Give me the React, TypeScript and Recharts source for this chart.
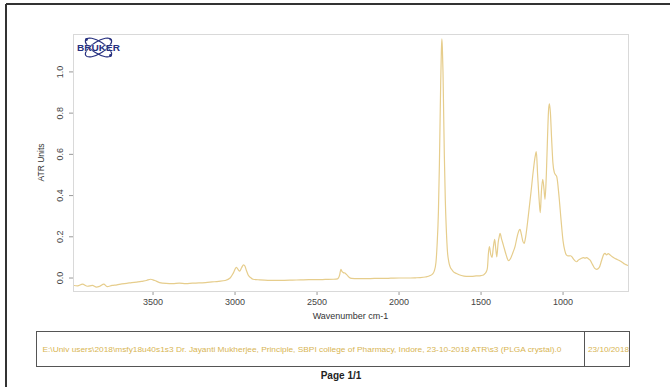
import { LineChart, Line, XAxis, YAxis } from 'recharts';

// ATR spectrum (PLGA crystal)
const wavenumbers = [
  3988, 3960, 3930, 3900, 3870, 3845, 3825, 3800, 3780, 3750, 3720, 3690, 3660, 3630, 3600, 3570,
  3540, 3515, 3490, 3460, 3420, 3380, 3340, 3300, 3260, 3220, 3180, 3140, 3100, 3060, 3030, 3010,
  2992, 2980, 2972, 2960, 2948, 2940, 2930, 2920, 2905, 2890, 2850, 2800, 2750, 2700, 2650, 2600,
  2550, 2500, 2450, 2400, 2375, 2362, 2355, 2348, 2340, 2330, 2318, 2305, 2290, 2250, 2200, 2150,
  2100, 2050, 2000, 1950, 1900, 1870, 1840, 1810, 1795, 1785, 1775, 1768, 1760, 1754, 1750, 1746,
  1742, 1739, 1736, 1732, 1728, 1724, 1718, 1712, 1705, 1697, 1689, 1678, 1668, 1650, 1620, 1590,
  1560, 1530, 1500, 1485, 1475, 1468, 1461, 1455, 1449, 1441, 1433, 1425, 1417, 1410, 1404, 1396,
  1388, 1384, 1375, 1364, 1350, 1340, 1333, 1320, 1305, 1293, 1280, 1268, 1262, 1255, 1245, 1237,
  1228, 1212, 1195, 1181, 1170, 1163, 1155, 1145, 1139, 1132, 1124, 1116, 1110, 1102, 1094, 1088,
  1083, 1077, 1070, 1062, 1053, 1045, 1038, 1025, 1012, 1000, 990, 980, 968, 955, 947, 935,
  925, 917, 905, 890, 876, 866, 856, 846, 835, 820, 808, 795, 780, 765, 752, 744,
  735, 725, 713, 700, 685, 670, 652, 640, 625, 611, 604,
];

const atrUnits = [
  -0.035, -0.038, -0.03, -0.04, -0.036, -0.044, -0.04, -0.03, -0.042, -0.036, -0.033, -0.028, -0.026, -0.022, -0.02, -0.016,
  -0.012, -0.006, -0.012, -0.022, -0.026, -0.027, -0.025, -0.027, -0.025, -0.024, -0.022, -0.019, -0.016, -0.012, 0.0, 0.025,
  0.052, 0.04, 0.033, 0.05, 0.064, 0.058, 0.035, 0.015, 0.002, -0.006, -0.009, -0.011, -0.011, -0.011, -0.01, -0.009,
  -0.008, -0.008, -0.007, -0.006, -0.004, 0.015, 0.042, 0.032, 0.026, 0.024, 0.015, 0.004, -0.002, -0.003, -0.003, -0.002,
  -0.002, -0.001, 0.0, 0.0, 0.001, 0.002, 0.005, 0.012, 0.02, 0.035, 0.075, 0.16, 0.32, 0.55, 0.75, 0.95,
  1.1, 1.16, 1.12, 1.0, 0.8, 0.6, 0.38, 0.24, 0.13, 0.08, 0.055, 0.04, 0.03, 0.022, 0.012, 0.008,
  0.008, 0.01, 0.012, 0.015, 0.022, 0.03, 0.05, 0.12, 0.152, 0.115, 0.1, 0.15, 0.188, 0.14, 0.103, 0.17,
  0.205, 0.217, 0.19, 0.16, 0.12, 0.095, 0.084, 0.095, 0.125, 0.152, 0.2, 0.232, 0.236, 0.215, 0.178, 0.168,
  0.2, 0.3, 0.42, 0.524, 0.59, 0.613, 0.5, 0.37, 0.317, 0.42, 0.479, 0.43, 0.382, 0.5, 0.7, 0.82,
  0.845, 0.8, 0.68, 0.56, 0.511, 0.5, 0.49, 0.4, 0.28, 0.18, 0.135, 0.112, 0.107, 0.108, 0.104, 0.09,
  0.082, 0.079, 0.088, 0.095, 0.099, 0.097, 0.099, 0.094, 0.087, 0.065, 0.048, 0.042, 0.05, 0.085, 0.115, 0.12,
  0.112, 0.118, 0.112, 0.103, 0.096, 0.09, 0.083, 0.077, 0.068, 0.063, 0.06,
];

const xTicks = [3500, 3000, 2500, 2000, 1500, 1000];
const yTicks = [0, 0.2, 0.4, 0.6, 0.8, 1.0];

const footerPath =
  'E:\\Univ users\\2018\\msfy18u40s1s3 Dr. Jayanti Mukherjee, Principle, SBPI college of Pharmacy, Indore, 23-10-2018 ATR\\s3 (PLGA crystal).0';
const footerDate = '23/10/2018';

const chartData = wavenumbers.map((wn, i) => ({ wn, atr: atrUnits[i] }));

const FONT = '"Liberation Sans", Arial, sans-serif';
const SPECTRUM = '#e6cd8c';
const GOLD = '#d8b553';
const NAVY = '#27307f';

const YTick = ({ x, y, payload }: any) => {
  const bx = x - 4;
  return (
    <text
      x={bx}
      y={y}
      transform={`rotate(-90 ${bx} ${y})`}
      textAnchor="middle"
      fontSize={9}
      fontFamily={FONT}
      fill="#444"
    >
      {payload.value.toFixed(1)}
    </text>
  );
};

const YTitle = ({ viewBox }: any) => {
  const cx = viewBox.x + 11;
  const cy = viewBox.y + viewBox.height / 2;
  return (
    <text
      x={cx}
      y={cy}
      transform={`rotate(-90 ${cx} ${cy})`}
      textAnchor="middle"
      fontSize={8.5}
      fontFamily={FONT}
      fill="#333"
    >
      ATR Units
    </text>
  );
};

const XTitle = ({ viewBox }: any) => (
  <text
    x={viewBox.x + viewBox.width / 2}
    y={viewBox.y + 28}
    textAnchor="middle"
    fontSize={9}
    fontFamily={FONT}
    fill="#333"
  >
    Wavenumber cm-1
  </text>
);

const BrukerLogo = () => (
  <g transform="translate(98.5 47.5)">
    <ellipse rx={15} ry={6} fill="none" stroke={NAVY} strokeWidth={1.2} transform="rotate(32)" />
    <ellipse rx={15} ry={6} fill="none" stroke={NAVY} strokeWidth={1.2} transform="rotate(-32)" />
    <circle cx={-12} cy={-8} r={1.4} fill={NAVY} />
    <circle cx={12} cy={8} r={1.4} fill={NAVY} />
    <circle cx={12} cy={-8} r={1.1} fill={NAVY} />
    <text
      x={0}
      y={3.2}
      textAnchor="middle"
      fontSize={9}
      fontWeight="bold"
      fontFamily={FONT}
      fill={NAVY}
      stroke="#fff"
      strokeWidth={0.5}
      paintOrder="stroke"
      textLength={43}
      lengthAdjust="spacingAndGlyphs"
    >
      BRUKER
    </text>
  </g>
);

export default function App() {
  return (
    <div style={{ position: 'absolute', left: 0, top: 0, width: 670, height: 387, background: '#fff' }}>
      <LineChart
        width={670}
        height={387}
        data={chartData}
        margin={{ top: 34, right: 42, left: 33, bottom: 66 }}
      >
        <XAxis
          dataKey="wn"
          type="number"
          domain={[604, 3988]}
          reversed
          allowDataOverflow
          ticks={xTicks}
          height={30}
          axisLine={false}
          tickLine={{ stroke: '#999' }}
          tickSize={4}
          tickMargin={4}
          tick={{ fontSize: 9, fill: '#444', fontFamily: FONT }}
          label={{ content: XTitle }}
        />
        <YAxis
          type="number"
          domain={[-0.063, 1.184]}
          allowDataOverflow
          ticks={yTicks}
          width={40}
          axisLine={false}
          tickLine={{ stroke: '#999' }}
          tickSize={4}
          tick={YTick}
          label={{ content: YTitle }}
        />
        <Line
          type="monotone"
          dataKey="atr"
          stroke={SPECTRUM}
          strokeWidth={1.2}
          dot={false}
          isAnimationActive={false}
        />
      </LineChart>
      <svg
        width={670}
        height={387}
        style={{ position: 'absolute', left: 0, top: 0, pointerEvents: 'none' }}
      >
        {/* page frame */}
        <line x1={6} y1={4} x2={670} y2={4} stroke="#333" strokeWidth={2} />
        <line x1={6} y1={4} x2={6} y2={387} stroke="#333" strokeWidth={2} />
        {/* plot box */}
        <rect x={73.5} y={34.5} width={555} height={257} fill="none" stroke="#d9d9d9" strokeWidth={1} />
        <BrukerLogo />
        {/* footer box */}
        <rect x={36.5} y={331.5} width={593} height={35} fill="none" stroke="#555" strokeWidth={1} />
        <line x1={584.5} y1={331.5} x2={584.5} y2={366.5} stroke="#555" strokeWidth={1} />
        <text
          x={42.5}
          y={351.5}
          fontSize={7.2}
          fontFamily={FONT}
          fill={GOLD}
          textLength={519}
          lengthAdjust="spacingAndGlyphs"
        >
          {footerPath}
        </text>
        <text
          x={588}
          y={351.5}
          fontSize={7.2}
          fontFamily={FONT}
          fill={GOLD}
          textLength={41}
          lengthAdjust="spacingAndGlyphs"
        >
          {footerDate}
        </text>
        <text
          x={341}
          y={379}
          textAnchor="middle"
          fontSize={10}
          fontWeight="bold"
          fontFamily={FONT}
          fill="#222"
        >
          Page 1/1
        </text>
      </svg>
    </div>
  );
}
